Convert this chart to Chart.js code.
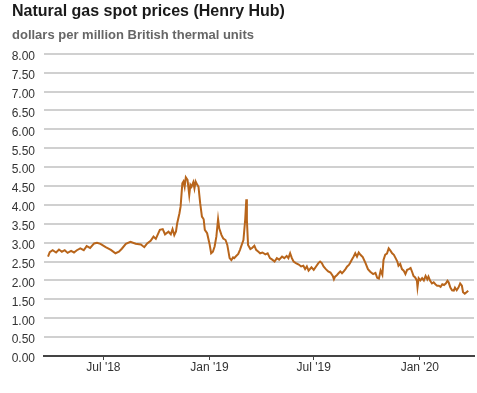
<!DOCTYPE html>
<html>
<head>
<meta charset="utf-8">
<title>Natural gas spot prices (Henry Hub)</title>
<script src="https://cdn.jsdelivr.net/npm/chart.js@4.4.1/dist/chart.umd.min.js"></script>
<style>
	body { margin: 0; background: #fff; }
	#wrap { width: 477px; height: 393px; }
</style>
</head>
<body>
<div id="wrap"><canvas id="chart-area" width="477" height="393"></canvas></div>
<script>
// Henry Hub spot (dollars per MMBtu)
var dates = [
	'2018-03-27','2018-03-30','2018-04-04','2018-04-10','2018-04-15','2018-04-20','2018-04-25','2018-04-30',
	'2018-05-06','2018-05-11','2018-05-16','2018-05-22','2018-05-28','2018-06-02','2018-06-08','2018-06-15',
	'2018-06-20','2018-06-26','2018-07-05','2018-07-14','2018-07-22','2018-07-28','2018-08-02','2018-08-09',
	'2018-08-17','2018-08-26','2018-09-04','2018-09-10','2018-09-15','2018-09-21','2018-09-26','2018-09-30',
	'2018-10-07','2018-10-12','2018-10-16','2018-10-22','2018-10-26','2018-10-29','2018-11-01','2018-11-04',
	'2018-11-06','2018-11-10','2018-11-12','2018-11-15','2018-11-17','2018-11-19','2018-11-21','2018-11-24',
	'2018-11-27','2018-11-29','2018-12-01','2018-12-04','2018-12-06','2018-12-08','2018-12-11','2018-12-13',
	'2018-12-16','2018-12-19','2018-12-22','2018-12-24','2018-12-28','2019-01-01','2019-01-04','2019-01-07',
	'2019-01-10','2019-01-13','2019-01-16','2019-01-18','2019-01-22','2019-01-25','2019-01-29','2019-02-01',
	'2019-02-05','2019-02-08','2019-02-11','2019-02-13','2019-02-16','2019-02-20','2019-02-23','2019-02-26',
	'2019-03-01','2019-03-04','2019-03-06','2019-03-07','2019-03-09','2019-03-13','2019-03-16','2019-03-20',
	'2019-03-23','2019-03-27','2019-03-30','2019-04-03','2019-04-08','2019-04-12','2019-04-16','2019-04-20',
	'2019-04-24','2019-04-28','2019-05-02','2019-05-07','2019-05-11','2019-05-15','2019-05-18','2019-05-21',
	'2019-05-24','2019-05-27','2019-05-31','2019-06-05','2019-06-09','2019-06-13','2019-06-16','2019-06-19',
	'2019-06-22','2019-06-27','2019-07-01','2019-07-05','2019-07-09','2019-07-12','2019-07-15','2019-07-18',
	'2019-07-22','2019-07-26','2019-07-30','2019-08-03','2019-08-05','2019-08-07','2019-08-10','2019-08-13',
	'2019-08-16','2019-08-19','2019-08-22','2019-08-25','2019-08-28','2019-08-31','2019-09-02','2019-09-05',
	'2019-09-08','2019-09-11','2019-09-14','2019-09-17','2019-09-20','2019-09-24','2019-09-29','2019-10-03',
	'2019-10-07','2019-10-12','2019-10-16','2019-10-19','2019-10-22','2019-10-25','2019-10-28','2019-10-30',
	'2019-11-02','2019-11-05','2019-11-08','2019-11-11','2019-11-14','2019-11-17','2019-11-20','2019-11-23',
	'2019-11-25','2019-11-28','2019-12-01','2019-12-04','2019-12-07','2019-12-10','2019-12-13','2019-12-16',
	'2019-12-19','2019-12-21','2019-12-24','2019-12-27','2019-12-28','2019-12-30','2020-01-02','2020-01-05',
	'2020-01-08','2020-01-11','2020-01-14','2020-01-16','2020-01-19','2020-01-22','2020-01-25','2020-01-28',
	'2020-01-31','2020-02-03','2020-02-06','2020-02-09','2020-02-12','2020-02-15','2020-02-18','2020-02-20',
	'2020-02-23','2020-02-26','2020-02-29','2020-03-02','2020-03-05','2020-03-08','2020-03-11','2020-03-14',
	'2020-03-16','2020-03-19','2020-03-22','2020-03-25'
];
var prices = [
	2.63, 2.75, 2.80, 2.74, 2.82, 2.76, 2.80, 2.73,
	2.78, 2.74, 2.80, 2.85, 2.80, 2.91, 2.86, 2.98,
	3.00, 2.97, 2.88, 2.81, 2.72, 2.76, 2.84, 2.97,
	3.02, 2.97, 2.95, 2.88, 2.98, 3.05, 3.16, 3.10,
	3.34, 3.36, 3.22, 3.29, 3.22, 3.36, 3.20, 3.30,
	3.51, 3.78, 3.96, 4.57, 4.62, 4.48, 4.73, 4.66,
	4.26, 4.53, 4.48, 4.60, 4.44, 4.62, 4.53, 4.48,
	4.04, 3.69, 3.62, 3.34, 3.25, 2.98, 2.72, 2.76,
	2.90, 3.16, 3.62, 3.38, 3.20, 3.11, 3.07, 2.94,
	2.59, 2.54, 2.61, 2.59, 2.64, 2.70, 2.81, 2.94,
	3.07, 3.60, 4.15, 3.60, 2.94, 2.83, 2.86, 2.92,
	2.81, 2.76, 2.72, 2.74, 2.69, 2.72, 2.59, 2.55,
	2.50, 2.59, 2.55, 2.63, 2.59, 2.65, 2.59, 2.72,
	2.59, 2.50, 2.46, 2.42, 2.37, 2.39, 2.30, 2.37,
	2.26, 2.35, 2.28, 2.37, 2.46, 2.50, 2.46, 2.37,
	2.30, 2.24, 2.21, 2.12, 2.03, 2.10, 2.14, 2.19,
	2.24, 2.19, 2.24, 2.30, 2.37, 2.41, 2.46, 2.55,
	2.63, 2.72, 2.63, 2.74, 2.68, 2.62, 2.45, 2.30,
	2.23, 2.17, 2.20, 2.07, 2.05, 2.26, 2.15, 2.54,
	2.68, 2.71, 2.85, 2.79, 2.72, 2.68, 2.59, 2.50,
	2.39, 2.44, 2.30, 2.26, 2.17, 2.28, 2.30, 2.33,
	2.21, 2.12, 2.08, 1.99, 1.82, 2.06, 2.00, 2.06,
	2.00, 2.12, 2.03, 2.10, 1.99, 1.92, 1.95, 1.90,
	1.86, 1.86, 1.83, 1.90, 1.88, 1.92, 1.99, 1.95,
	1.81, 1.74, 1.73, 1.81, 1.74, 1.81, 1.92, 1.86,
	1.69, 1.65, 1.69, 1.73
];
var tickDates = ['2018-07-01', '2019-01-01', '2019-07-01', '2020-01-01'];
var tickLabels = ["Jul '18", "Jan '19", "Jul '19", "Jan '20"];
var xStart = '2018-03-20';
var xEnd = '2020-04-04';

var puntos = [];
for (var i in dates) {
	puntos.push({ x: Date.parse(dates[i]), y: prices[i] });
}
var tickTimes = tickDates.map(function(d){ return Date.parse(d); });

Chart.defaults.font.family = "'Liberation Sans', Arial, sans-serif";
Chart.defaults.color = '#333';

var config = {
	type: 'line',
	data: {
		datasets: [{
			label: 'Henry Hub',
			data: puntos,
			borderColor: '#b8651b',
			borderWidth: 2,
			pointRadius: 0,
			tension: 0,
			fill: false
		}]
	},
	options: {
		responsive: false,
		animation: false,
		layout: { padding: { left: 12, right: 3, top: 0, bottom: 0 } },
		plugins: {
			legend: { display: false },
			tooltip: { enabled: false },
			title: {
				display: true,
				text: 'Natural gas spot prices (Henry Hub)',
				align: 'start',
				color: '#1a1a1a',
				font: { size: 16, weight: 'bold' },
				padding: { top: 2, bottom: 3 }
			},
			subtitle: {
				display: true,
				text: 'dollars per million British thermal units',
				align: 'start',
				color: '#666',
				font: { size: 13, weight: 'bold' },
				padding: { top: 3, bottom: 11 }
			}
		},
		scales: {
			x: {
				type: 'linear',
				min: Date.parse(xStart),
				max: Date.parse(xEnd),
				afterBuildTicks: function(scale){
					scale.ticks = tickTimes.map(function(t){ return { value: t }; });
				},
				afterFit: function(scale){ scale.height = 37; },
				ticks: {
					autoSkip: false,
					maxRotation: 0,
					padding: 0,
					color: '#333',
					font: { size: 12 },
					callback: function(value){
						var k = tickTimes.indexOf(value);
						return k >= 0 ? tickLabels[k] : '';
					}
				},
				grid: {
					drawOnChartArea: false,
					drawTicks: true,
					tickLength: 4,
					color: '#444',
					lineWidth: 1
				},
				border: { display: true, color: '#444', width: 2 }
			},
			y: {
				min: 0,
				max: 8,
				afterFit: function(scale){ scale.width = 32; },
				ticks: {
					stepSize: 0.5,
					padding: 9,
					labelOffset: 3,
					color: '#333',
					font: { size: 12 },
					callback: function(value){ return value.toFixed(2); }
				},
				grid: {
					drawTicks: false,
					color: '#d0d0d0',
					lineWidth: 2
				},
				border: { display: false }
			}
		}
	}
};

var ctx = document.getElementById('chart-area').getContext('2d');
window.myLine = new Chart(ctx, config);
</script>
</body>
</html>
